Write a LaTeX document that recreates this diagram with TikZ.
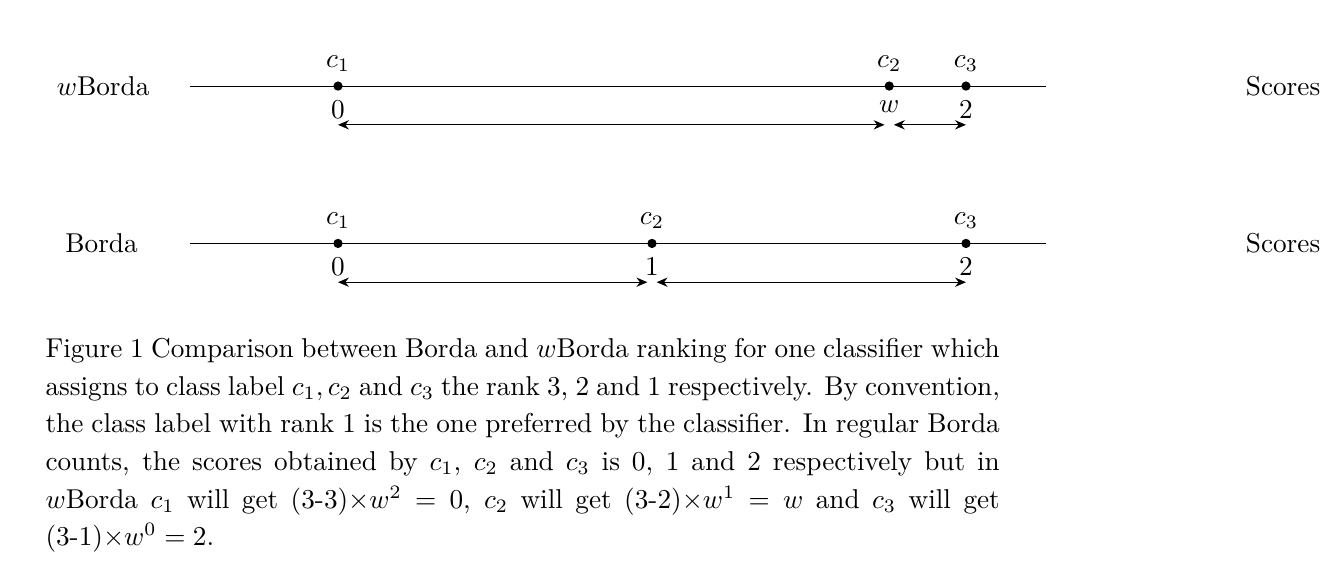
\documentclass[tikz,border=0pt]{standalone}
\usepackage{amsmath,amssymb}
\usepackage{tikz}
\usetikzlibrary{arrows.meta,calc,positioning}

\begin{document}
\begin{tikzpicture}[>={Stealth[length=4pt,width=3.4pt]},
  pt/.style={circle,fill,inner sep=0pt,minimum size=3.4pt},
  span/.style={<->}]
  \useasboundingbox (0,0) rectangle (17.22,-7.44);
  % wBorda line
  \node (wname) at (1.33,-1.11) {$w$Borda};
  \coordinate (wl) at (2.45,-1.11);
  \coordinate (wr) at (13.49,-1.11);
  \draw (wl) -- (wr);
  \node[pt,label={above:$c_1$},label={below:$0$}] (wc1) at (4.36,-1.11) {};
  \node[pt,label={above:$c_2$},label={below:$w$}] (wc2) at (11.47,-1.11) {};
  \node[pt,label={above:$c_3$},label={below:$2$}] (wc3) at (12.46,-1.11) {};
  \node (wscore) at (16.55,-1.11) {Scores};
  \draw[span] ($(wc1)+(0,-0.5)$) -- ($(wc2)+(-0.06,-0.5)$);
  \draw[span] ($(wc2)+(0.06,-0.5)$) -- ($(wc3)+(0,-0.5)$);
  % Borda line
  \node (bname) at (1.31,-3.14) {Borda};
  \coordinate (bl) at (2.45,-3.14);
  \coordinate (br) at (13.49,-3.14);
  \draw (bl) -- (br);
  \node[pt,label={above:$c_1$},label={below:$0$}] (bc1) at (4.36,-3.14) {};
  \node[pt,label={above:$c_2$},label={below:$1$}] (bc2) at (8.41,-3.14) {};
  \node[pt,label={above:$c_3$},label={below:$2$}] (bc3) at (12.46,-3.14) {};
  \node (bscore) at (16.55,-3.14) {Scores};
  \draw[span] ($(bc1)+(0,-0.5)$) -- ($(bc2)+(-0.06,-0.5)$);
  \draw[span] ($(bc2)+(0.06,-0.5)$) -- ($(bc3)+(0,-0.5)$);
  % caption
  \node[anchor=north west,inner sep=0pt,text width=12.31cm,align=justify,
        font=\fontsize{10}{13.8}\selectfont] (caption) at (0.58,-4.36)
  {Figure 1 Comparison between Borda and $w$Borda ranking for one classifier which\linebreak
   assigns to class label $c_1, c_2$ and $c_3$ the rank 3, 2 and 1 respectively. By convention,\linebreak
   the class label with rank 1 is the one preferred by the classifier. In regular Borda\linebreak
   counts, the scores obtained by $c_1$, $c_2$ and $c_3$ is 0, 1 and 2 respectively but in\linebreak
   $w$Borda $c_1$ will get (3-3)$\times w^2=0$, $c_2$ will get (3-2)$\times w^1=w$ and $c_3$ will get\linebreak
   (3-1)$\times w^0=2$.};
\end{tikzpicture}
\end{document}
